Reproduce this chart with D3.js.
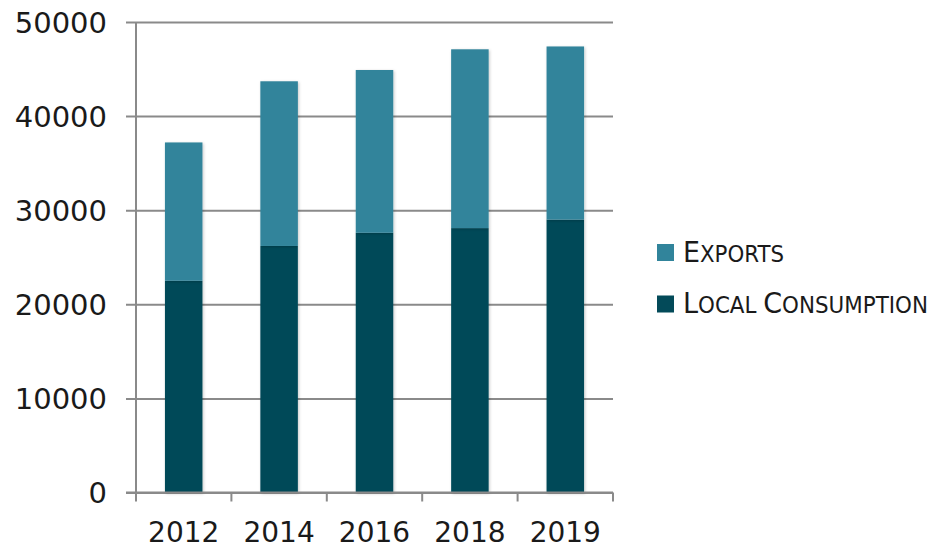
<!DOCTYPE html>
<html>
<head>
<meta charset="utf-8">
<script src="https://cdn.jsdelivr.net/npm/d3@7"></script>
<style>
  html, body { margin: 0; padding: 0; background: #fff; }
  svg { display: block; }
</style>
</head>
<body>
<svg id="chart" width="932" height="548"></svg>
<script>
// Production split per year
const years = ["2012", "2014", "2016", "2018", "2019"];
const localConsumption = [22500, 26200, 27600, 28100, 29000];
const exportsVol = [14700, 17500, 17300, 19000, 18400];
const yTicks = [0, 10000, 20000, 30000, 40000, 50000];
const seriesNames = ["Local Consumption", "Exports"];
const colors = { "Local Consumption": "#034a59", "Exports": "#31849b" };

const svg = d3.select("#chart");
const left = 136, right = 613;

const x = d3.scaleBand().domain(years).range([left, right]).paddingInner(0.6).paddingOuter(0.3);
const y = d3.scaleLinear().domain([0, 50000]).range([492.5, 22]);

const rows = years.map((yr, i) => ({ year: yr, "Local Consumption": localConsumption[i], "Exports": exportsVol[i] }));
const stacked = d3.stack().keys(seriesNames)(rows);

// subtle bar shadow
const defs = svg.append("defs");
const f = defs.append("filter").attr("id", "shadow").attr("x", "-20%").attr("y", "-20%").attr("width", "140%").attr("height", "140%");
f.append("feDropShadow").attr("dx", 1).attr("dy", 1).attr("stdDeviation", 1.6).attr("flood-color", "#000").attr("flood-opacity", 0.22);

const gridColor = "#8a8a8a";

// gridlines with outer tick marks
const yAxis = d3.axisLeft(y).tickValues(yTicks).tickSize(-(right - left)).tickSizeOuter(0).tickFormat(d3.format("d")).tickPadding(29);
const gy = svg.append("g").attr("transform", `translate(${left},0)`).call(yAxis);
gy.select(".domain").remove();
gy.selectAll(".tick line").attr("stroke", gridColor).attr("stroke-width", 2).attr("x1", -10);
gy.selectAll(".tick text")
  .attr("fill", "#1a1a1a")
  .attr("font-family", "'DejaVu Sans', sans-serif")
  .attr("font-size", 29)
  .attr("dy", "0.36em");

// bars
const barW = 37.5;
svg.append("g").selectAll("g").data(stacked).join("g")
  .attr("fill", d => colors[d.key])
  .selectAll("rect").data(d => d).join("rect")
  .attr("x", d => x(d.data.year) + x.bandwidth() / 2 - barW / 2)
  .attr("width", barW)
  .attr("y", d => y(d[1]))
  .attr("height", d => y(d[0]) - y(d[1]))
  .attr("filter", "url(#shadow)");

// y axis line
svg.append("line")
  .attr("x1", left).attr("x2", left)
  .attr("y1", y(50000)).attr("y2", y(0))
  .attr("stroke", gridColor).attr("stroke-width", 2);

// x axis with category separators
const gx = svg.append("g");
gx.append("line").attr("x1", left - 10).attr("x2", right).attr("y1", y(0)).attr("y2", y(0))
  .attr("stroke", gridColor).attr("stroke-width", 2);
const seps = d3.range(years.length + 1).map(i => left + i * (right - left) / years.length);
gx.selectAll("line.sep").data(seps).join("line").attr("class", "sep")
  .attr("x1", d => d).attr("x2", d => d).attr("y1", y(0)).attr("y2", y(0) + 9)
  .attr("stroke", gridColor).attr("stroke-width", 2);
gx.selectAll("text").data(years).join("text")
  .attr("x", (d, i) => (seps[i] + seps[i + 1]) / 2)
  .attr("y", 542)
  .attr("text-anchor", "middle")
  .attr("fill", "#1a1a1a")
  .attr("font-family", "'DejaVu Sans', sans-serif")
  .attr("font-size", 28)
  .text(d => d);

// legend (small-cap style labels)
const legendItems = [
  { key: "Exports", words: [["E", "XPORTS"]], base: 261.5, len: 101 },
  { key: "Local Consumption", words: [["L", "OCAL "], ["C", "ONSUMPTION"]], base: 313, len: 245 }
];
const lg = svg.append("g");
legendItems.forEach(item => {
  lg.append("rect").attr("x", 657).attr("y", item.base - 17.5).attr("width", 17).attr("height", 17)
    .attr("fill", colors[item.key]);
  const t = lg.append("text").attr("x", 683).attr("y", item.base)
    .attr("fill", "#1a1a1a")
    .attr("font-family", "'DejaVu Sans Condensed', 'DejaVu Sans', sans-serif")
    .attr("textLength", item.len).attr("lengthAdjust", "spacingAndGlyphs");
  item.words.forEach(([cap, rest]) => {
    t.append("tspan").attr("font-size", 29).text(cap);
    t.append("tspan").attr("font-size", 23).text(rest);
  });
});
</script>
</body>
</html>
